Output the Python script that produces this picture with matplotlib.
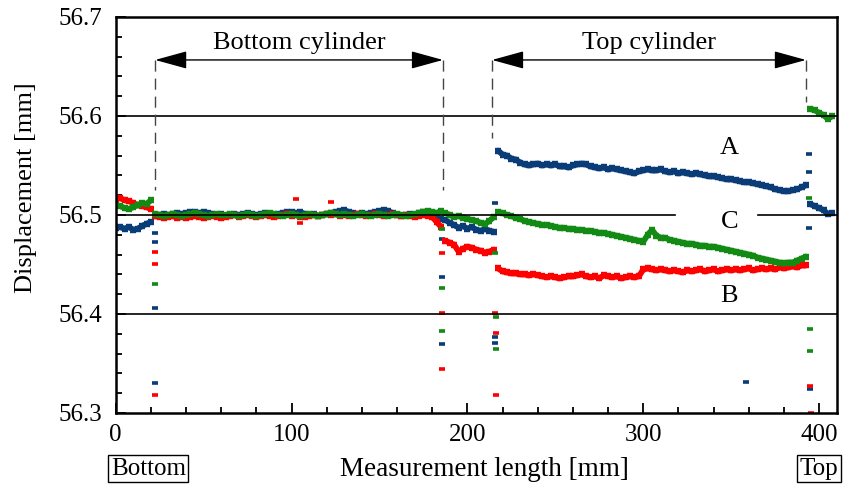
import numpy as np
import matplotlib
matplotlib.use("Agg")
import matplotlib.pyplot as plt
from matplotlib.ticker import MultipleLocator, FormatStrFormatter

# measurement grid along the cylinder [mm]
length_mm = np.arange(0, 410, 2.5)

# A (blue) displacement [mm]
a_start = [56.487, 56.488, 56.486, 56.488, 56.485, 56.486, 56.489, 56.491, 56.493]
a_bottom = [56.499, 56.500, 56.501, 56.500, 56.501, 56.502, 56.501, 56.502, 56.503, 56.503,
            56.502, 56.503, 56.502, 56.501, 56.500, 56.501, 56.499, 56.500, 56.501, 56.500,
            56.501, 56.502, 56.501, 56.500, 56.501, 56.502, 56.501, 56.500, 56.501, 56.502,
            56.503, 56.503, 56.502, 56.503, 56.501, 56.500, 56.501, 56.499, 56.500, 56.501,
            56.502, 56.503, 56.504, 56.505, 56.503, 56.502, 56.501, 56.502, 56.501, 56.502,
            56.503, 56.504, 56.505, 56.504, 56.502, 56.500, 56.499, 56.500, 56.501, 56.500,
            56.502, 56.503, 56.502, 56.499, 56.497, 56.496]
a_gap = [56.495, 56.492, 56.490, 56.487, 56.489, 56.486, 56.488, 56.485, 56.484, 56.486, 56.484, 56.483]
a_top = [56.565, 56.561, 56.560, 56.557, 56.556, 56.553, 56.551, 56.550, 56.551, 56.552,
         56.550, 56.551, 56.550, 56.551, 56.549, 56.549, 56.548, 56.550, 56.551, 56.552,
         56.551, 56.549, 56.548, 56.547, 56.548, 56.546, 56.547, 56.546, 56.545, 56.544,
         56.543, 56.542, 56.544, 56.545, 56.546, 56.545, 56.545, 56.546, 56.544, 56.543,
         56.544, 56.542, 56.543, 56.542, 56.541, 56.542, 56.541, 56.540, 56.539, 56.539,
         56.538, 56.537, 56.536, 56.536, 56.535, 56.534, 56.533, 56.533, 56.532, 56.531,
         56.530, 56.529, 56.528, 56.526, 56.525, 56.524, 56.524, 56.525, 56.526, 56.528,
         56.530]
a_end = [56.511, 56.509, 56.507, 56.505, 56.501, 56.502]

# B (red)
b_start = [56.516, 56.517, 56.515, 56.514, 56.512, 56.510, 56.509, 56.508, 56.506]
b_bottom = [56.499, 56.498, 56.497, 56.498, 56.499, 56.497, 56.498, 56.497, 56.498, 56.499,
            56.498, 56.497, 56.498, 56.499, 56.498, 56.497, 56.498, 56.499, 56.500, 56.498,
            56.499, 56.500, 56.499, 56.498, 56.499, 56.500, 56.499, 56.498, 56.499, 56.500,
            56.501, 56.499, 56.500, 56.498, 56.498, 56.499, 56.500, 56.499, 56.500, 56.501,
            56.500, 56.501, 56.499, 56.500, 56.499, 56.500, 56.501, 56.500, 56.499, 56.500,
            56.501, 56.500, 56.499, 56.500, 56.501, 56.500, 56.499, 56.500, 56.499, 56.498,
            56.499, 56.500, 56.499, 56.498, 56.493, 56.488]
b_gap = [56.474, 56.472, 56.470, 56.463, 56.466, 56.468, 56.467, 56.465, 56.464, 56.462, 56.463, 56.465]
b_top = [56.446, 56.443, 56.442, 56.441, 56.441, 56.440, 56.440, 56.439, 56.440, 56.439,
         56.438, 56.437, 56.438, 56.437, 56.436, 56.437, 56.438, 56.438, 56.439, 56.440,
         56.438, 56.437, 56.438, 56.436, 56.439, 56.438, 56.437, 56.438, 56.436, 56.437,
         56.438, 56.437, 56.438, 56.445, 56.446, 56.445, 56.444, 56.445, 56.444, 56.443,
         56.444, 56.443, 56.442, 56.444, 56.443, 56.444, 56.445, 56.443, 56.444, 56.445,
         56.443, 56.444, 56.445, 56.444, 56.445, 56.444, 56.445, 56.446, 56.444, 56.445,
         56.446, 56.445, 56.446, 56.445, 56.447, 56.446, 56.447, 56.448, 56.447, 56.449,
         56.449]
b_end = [None, None, None, None, None, None]

# C (green)
c_start = [56.510, 56.509, 56.507, 56.506, 56.508, 56.510, 56.512, 56.511, 56.515]
c_bottom = [56.501, 56.500, 56.499, 56.500, 56.501, 56.500, 56.499, 56.500, 56.501, 56.502,
            56.501, 56.500, 56.499, 56.500, 56.501, 56.500, 56.500, 56.501, 56.500, 56.499,
            56.500, 56.501, 56.500, 56.499, 56.500, 56.501, 56.502, 56.501, 56.500, 56.499,
            56.500, 56.501, 56.500, 56.499, 56.500, 56.501, 56.500, 56.499, 56.500, 56.501,
            56.502, 56.501, 56.500, 56.501, 56.500, 56.499, 56.500, 56.501, 56.500, 56.499,
            56.500, 56.501, 56.500, 56.499, 56.500, 56.501, 56.500, 56.499, 56.500, 56.501,
            56.502, 56.503, 56.504, 56.503, 56.502, 56.504]
c_gap = [56.502, 56.500, 56.498, 56.499, 56.497, 56.496, 56.495, 56.494, 56.492, 56.491, 56.494, 56.498]
c_top = [56.503, 56.502, 56.500, 56.499, 56.497, 56.496, 56.494, 56.493, 56.492, 56.491,
         56.490, 56.490, 56.489, 56.488, 56.487, 56.487, 56.486, 56.486, 56.485, 56.485,
         56.484, 56.484, 56.483, 56.482, 56.482, 56.481, 56.480, 56.479, 56.478, 56.477,
         56.476, 56.475, 56.474, 56.473, 56.480, 56.485, 56.479, 56.477, 56.477, 56.475,
         56.474, 56.473, 56.472, 56.471, 56.471, 56.470, 56.469, 56.469, 56.468, 56.468,
         56.467, 56.466, 56.465, 56.464, 56.463, 56.462, 56.461, 56.460, 56.459, 56.457,
         56.456, 56.455, 56.454, 56.453, 56.452, 56.451, 56.452, 56.452, 56.454, 56.456,
         56.458]
c_end = [56.607, 56.606, 56.603, 56.601, 56.597, 56.600]

# stray readings (joints and isolated spikes)
a_out_x = [22.4, 22.4, 22.6, 22.6, 185.3, 185.3, 185.5, 215.6, 215.6, 215.6, 358.7, 394.5, 394.5, 394.0, 395.0]
a_out_y = [56.482, 56.473, 56.406, 56.330, 56.4755, 56.437, 56.370, 56.512, 56.377, 56.371, 56.331, 56.562, 56.543, 56.4866, 56.324]
b_out_x = [22.4, 22.4, 22.6, 102.5, 105.0, 122.5, 185.3, 185.5, 185.5, 215.8, 216.0, 216.0, 394.8, 395.2]
b_out_y = [56.463, 56.4505, 56.318, 56.516, 56.492, 56.513, 56.462, 56.401, 56.344, 56.401, 56.381, 56.318, 56.327, 56.300]
c_out_x = [22.6, 185.5, 185.8, 185.5, 215.8, 216.0, 216.0, 394.3, 394.8, 394.8]
c_out_y = [56.4306, 56.486, 56.426, 56.383, 56.462, 56.397, 56.365, 56.517, 56.3845, 56.363]

series = {
    "A": ([a_start, a_bottom, a_gap, a_top, a_end], a_out_x, a_out_y, "#0a3c78"),
    "B": ([b_start, b_bottom, b_gap, b_top, b_end], b_out_x, b_out_y, "#ff0000"),
    "C": ([c_start, c_bottom, c_gap, c_top, c_end], c_out_x, c_out_y, "#138a13"),
}

plt.rcParams["font.family"] = ["Liberation Serif", "DejaVu Serif"]
plt.rcParams["font.size"] = 18

fig = plt.figure(figsize=(8.46, 4.88), dpi=100)
ax = fig.add_axes([0.1368, 0.1537, 0.8522, 0.8115])

for name, (segs, ox, oy, col) in series.items():
    i0 = 0
    for seg in segs:
        y = np.array(seg, dtype=float)
        x = length_mm[i0:i0 + len(y)]
        i0 += len(y)
        ax.plot(x, y, ls="-", lw=4.2, solid_capstyle="round", marker="_",
                ms=5, mew=4.6, color=col)
    assert i0 == len(length_mm), name
    ax.plot(ox, oy, ls="none", marker="_", ms=4, mew=2.6, color=col)

# reference lines
ax.axhline(56.6, color="black", lw=1.2)
ax.axhline(56.4, color="black", lw=1.2)
ax.plot([0, 318], [56.5, 56.5], color="black", lw=1.2)
ax.plot([365, 410], [56.5, 56.5], color="black", lw=1.2)

# cylinder extents
arrow_y = 56.6566
for x0, y0 in [(22.4, 56.525), (186.1, 56.525), (214.0, 56.578), (392.5, 56.6145)]:
    ax.plot([x0, x0], [arrow_y, y0], color="#444444", lw=1, ls=(0, (8, 5)))
for x0, x1, lab in [(22.4, 186.1, "Bottom cylinder"), (214.0, 392.5, "Top cylinder")]:
    ax.annotate("", xy=(x1, arrow_y), xytext=(x0, arrow_y),
                arrowprops=dict(arrowstyle="<|-|>,head_length=2.0,head_width=0.55",
                                mutation_scale=10, color="black", lw=1,
                                shrinkA=0, shrinkB=0))
    ax.text((x0 + x1) / 2, 56.674, lab, ha="center", va="center", fontsize=19)

ax.text(349, 56.568, "A", ha="center", va="center", fontsize=19)
ax.text(349, 56.493, "C", ha="center", va="center", fontsize=19)
ax.text(349, 56.418, "B", ha="center", va="center", fontsize=19)

ax.set_xlim(0, 410)
ax.set_ylim(56.3, 56.7)
ax.xaxis.set_major_locator(MultipleLocator(100))
ax.xaxis.set_minor_locator(MultipleLocator(20))
ax.yaxis.set_major_locator(MultipleLocator(0.1))
ax.yaxis.set_minor_locator(MultipleLocator(0.02))
ax.yaxis.set_major_formatter(FormatStrFormatter("%.1f"))
ax.tick_params(which="both", direction="in", width=1.3, labelsize=18)
ax.tick_params(axis="x", which="major", length=7, pad=8)
ax.tick_params(axis="y", which="major", length=7, pad=10)
ax.tick_params(which="minor", length=4.5)
for sp in ax.spines.values():
    sp.set_linewidth(1.8)

ax.set_xlabel("Measurement length [mm]", fontsize=19.5)
ax.xaxis.set_label_coords(0.511, -0.112)
ax.set_ylabel("Displacement [mm]", fontsize=19)
ax.yaxis.set_label_coords(-0.109, 0.568)

box = dict(boxstyle="square,pad=0.1", fc="white", ec="black", lw=1)
trans = ax.get_xaxis_transform()
ax.text(18.6, -0.141, "Bottom", transform=trans, ha="center", va="center",
        fontsize=18, bbox=box, clip_on=False)
ax.text(400, -0.141, "Top", transform=trans, ha="center", va="center",
        fontsize=18, bbox=box, clip_on=False)

fig.savefig("out.png", dpi=100)
